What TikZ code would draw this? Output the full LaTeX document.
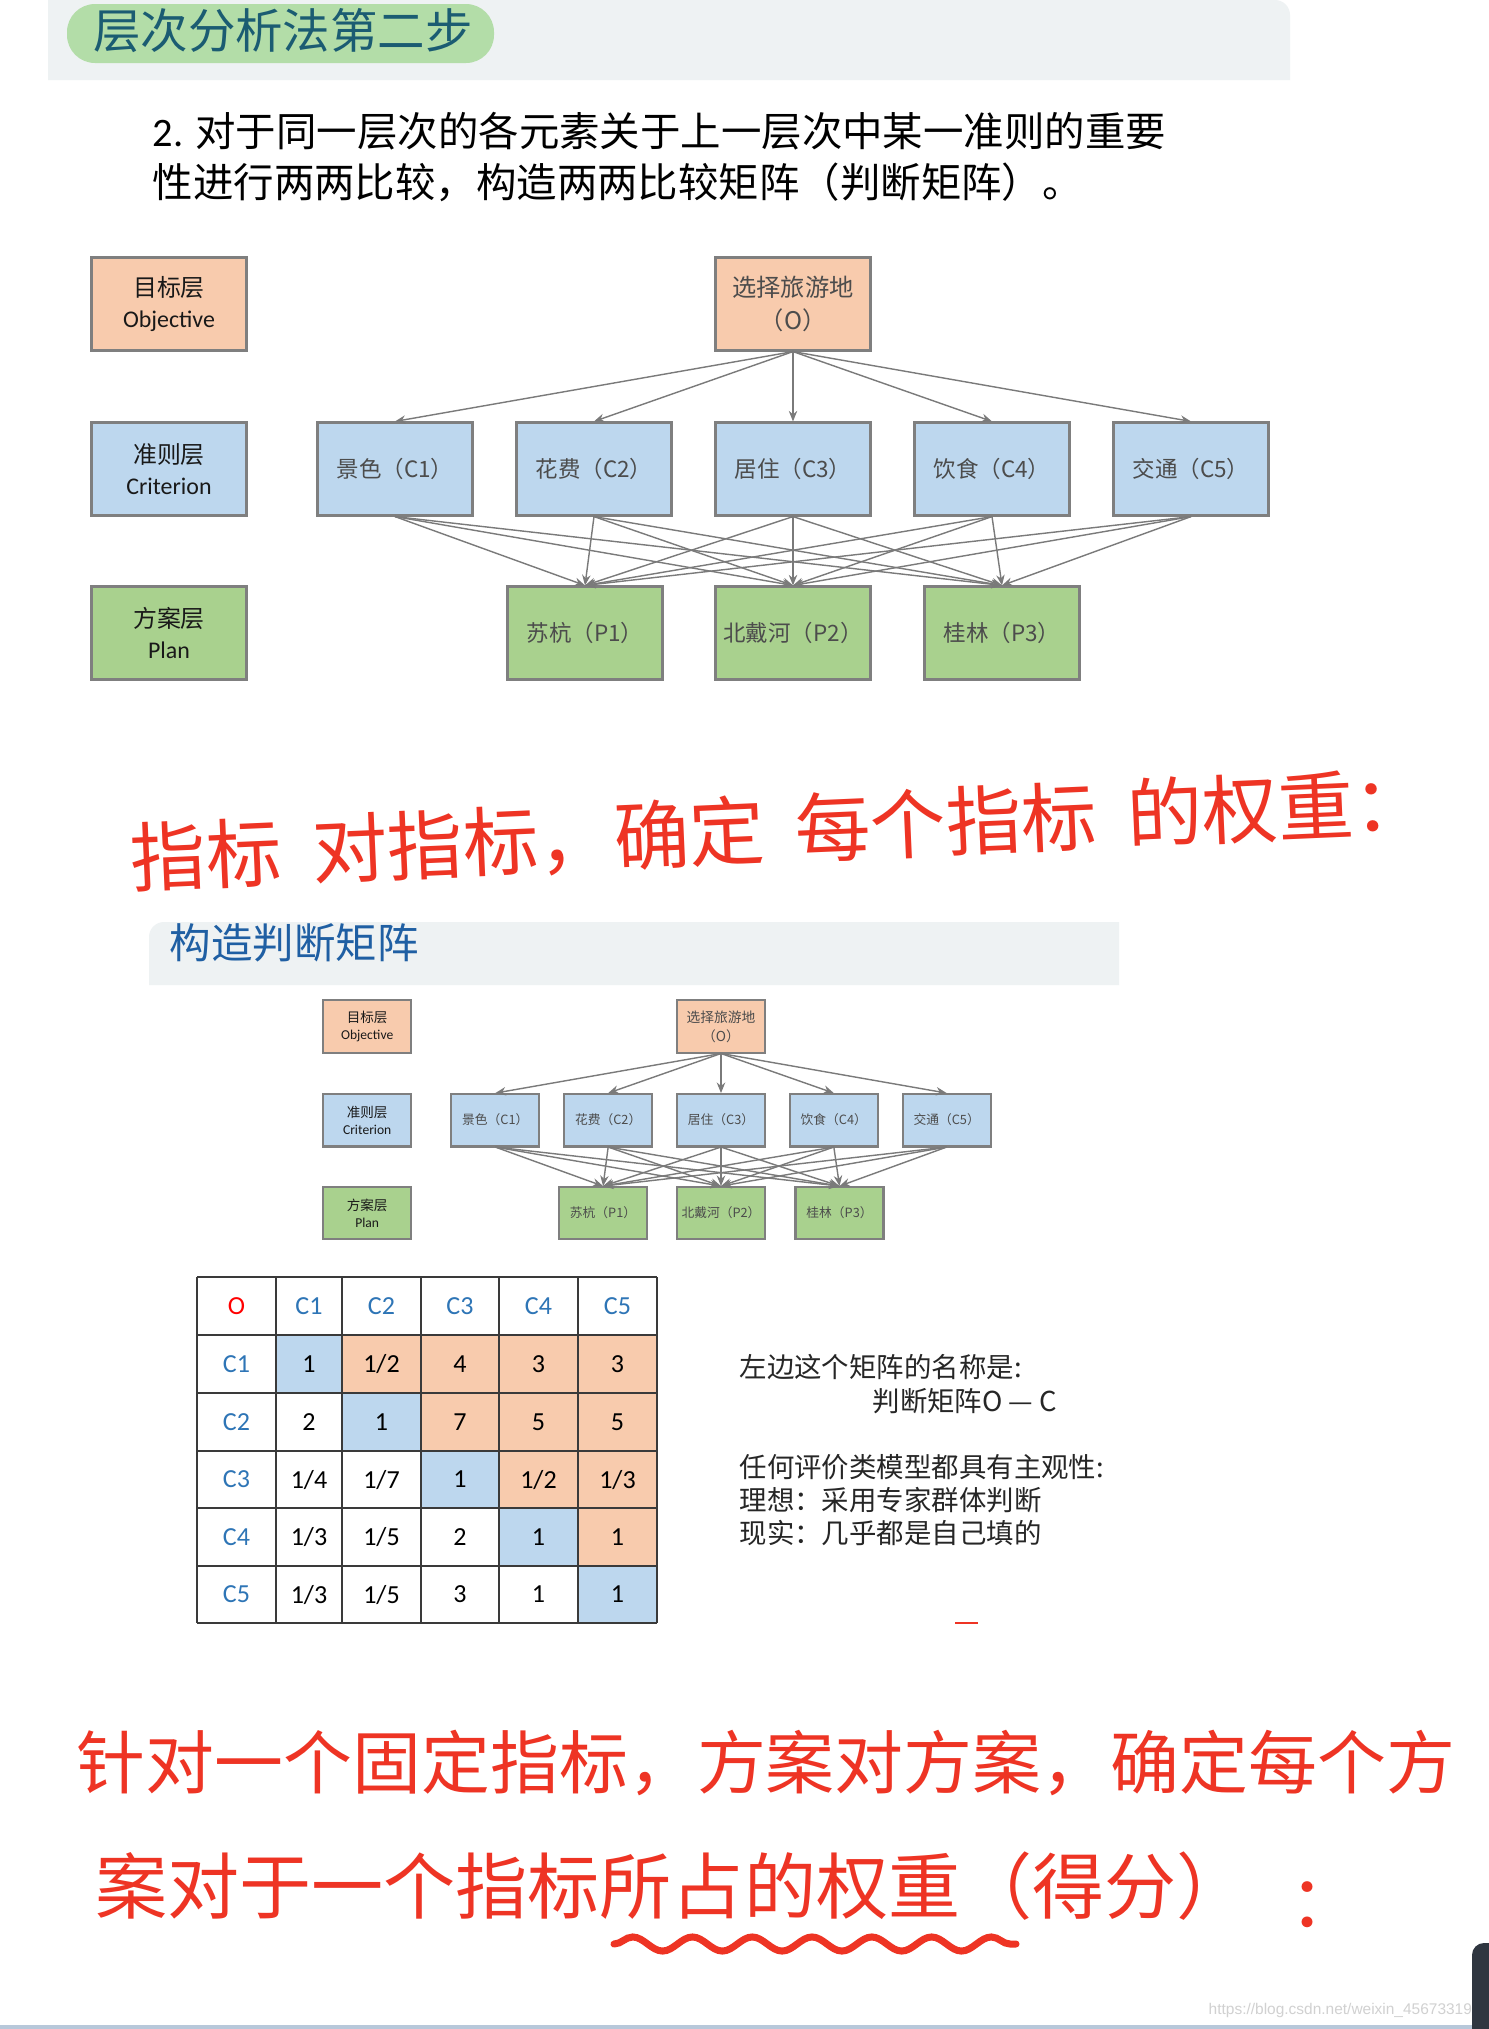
\documentclass[tikz,border=0pt]{standalone}
\usepackage{fontspec}
\setmainfont{Noto Sans CJK SC}
\newfontfamily\latinfont{Carlito}
\newfontfamily\wmfont{Liberation Sans}
\usepackage{tikz}
\usetikzlibrary{arrows.meta,decorations.pathmorphing}

\definecolor{bandgray}{HTML}{EEF2F3}
\definecolor{pillgreen}{HTML}{B3DDA8}
\definecolor{titleteal}{HTML}{1B5C72}
\definecolor{titleblue}{HTML}{1F5FA3}
\definecolor{goalfill}{HTML}{F8CBAD}
\definecolor{critfill}{HTML}{BDD7EE}
\definecolor{planfill}{HTML}{A9D18E}
\definecolor{boxline}{HTML}{7F7F7F}
\definecolor{linkgray}{HTML}{7A7A7A}
\definecolor{handred}{HTML}{EE3424}
\definecolor{labelblue}{HTML}{2E75B6}
\definecolor{gridgray}{HTML}{3A3A3A}
\definecolor{edgeblue}{HTML}{B8C8DA}
\definecolor{darkedge}{HTML}{2F3640}

\tikzset{
  layer/.style={draw=boxline, line width=0.6pt, minimum width=1.55cm, minimum height=0.93cm, inner sep=1pt, align=center},
  goalbox/.style={layer, fill=goalfill},
  critbox/.style={layer, fill=critfill},
  planbox/.style={layer, fill=planfill},
  sidetext/.style={font=\fontsize{6.8}{8.6}\selectfont, text=black!90},
  boxtext/.style={font=\fontsize{6.4}{8.6}\selectfont, text=black!70},
  link/.style={draw=linkgray, line width=0.4pt, -{Stealth[length=3pt,width=2.4pt]}},
  cell/.style={inner sep=0pt, font=\latinfont\fontsize{7.4}{8}\selectfont},
  note/.style={anchor=west, inner sep=0pt, font=\fontsize{7.8}{9}\selectfont, text=black!85},
  hand/.style={inner sep=0pt, text=handred, font=\fontsize{20.5}{24}\selectfont},
  ahp/.pic={
    \node[goalbox, sidetext] (-lo) at (-624,0) {目标层\\{\latinfont Objective}};
    \node[critbox, sidetext] (-lc) at (-624,165) {准则层\\{\latinfont Criterion}};
    \node[planbox, sidetext] (-lp) at (-624,329) {方案层\\{\latinfont Plan}};
    \node[goalbox, boxtext, font=\fontsize{6.9}{9.4}\selectfont] (-o) at (0,0) {选择旅游地\\（O）};
    \foreach \i/\x/\t in {1/-398/景色,2/-199/花费,3/0/居住,4/199/饮食,5/398/交通}
      \node[critbox, boxtext] (-c\i) at (\x,165) {\t（C\i）};
    \foreach \j/\x/\t in {1/-208/苏杭,2/0/北戴河,3/209/桂林}
      \node[planbox, boxtext] (-p\j) at (\x,329) {\t（P\j）};
    \foreach \i in {1,...,5} {
      \draw[link] (-o.south) -- (-c\i.north);
      \foreach \j in {1,2,3}
        \draw[link] (-c\i.south) -- (-p\j.north);
    }
  }
}

\begin{document}
\begin{tikzpicture}[x=0.01cm, y=-0.01cm]
  \useasboundingbox (0,0) rectangle (1489,2029);
  \fill[white] (0,0) rectangle (1489,2029);

  % first heading
  \fill[bandgray] (48,80) -- (48,0) [rounded corners=0.15cm] -- (1290,0) [sharp corners] -- (1290,80) -- cycle;
  \fill[pillgreen, rounded corners=0.28cm] (67,4) rectangle (494,63);
  \node[text=titleteal, font=\fontsize{13.5}{16}\selectfont] (title) at (283,31) {层次分析法第二步};
  \node[anchor=west, inner sep=0pt, align=left, font=\fontsize{11.5}{14.4}\selectfont] (step) at (152,157)
    {{\latinfont 2.} 对于同一层次的各元素关于上一层次中某一准则的重要\\性进行两两比较，构造两两比较矩阵（判断矩阵）。};

  \pic (big) at (793,304) {ahp};

  \node[hand, rotate=2.5, font=\fontsize{21.5}{24}\selectfont] (hand1) at (780,830)
    {指标\hspace{0.3cm}对指标，确定\hspace{0.3cm}每个指标\hspace{0.3cm}的权重：};

  % second heading
  \fill[bandgray] (1119,985) -- (149,985) [rounded corners=0.15cm] -- (149,922) [sharp corners] -- (1119,922) -- cycle;
  \node[anchor=west, inner sep=0pt, text=titleblue, font=\fontsize{11.8}{14}\selectfont] (title2) at (169,943) {构造判断矩阵};

  \pic[scale=0.567, transform shape] (small) at (721,1026.5) {ahp};

  % judgement matrix
  \fill[goalfill] (342,1335) -- (657,1335) -- (657,1566) -- (578,1566) -- (578,1508) -- (499,1508)
    -- (499,1451) -- (421,1451) -- (421,1393) -- (342,1393) -- cycle;
  \foreach \a/\b/\c/\d in {276/1335/342/1393, 342/1393/421/1451, 421/1451/499/1508, 499/1508/578/1566, 578/1566/657/1623}
    \fill[critfill] (\a,\b) rectangle (\c,\d);
  \foreach \x in {197,276,342,421,499,578,657}
    \draw[gridgray, line width=0.6pt] (\x,1277) -- (\x,1623);
  \foreach \y in {1277,1335,1393,1451,1508,1566,1623}
    \draw[gridgray, line width=0.6pt] (197,\y) -- (657,\y);
  \node[cell, text=red] (h0) at (236.5,1306) {O};
  \foreach \c/\x in {1/309,2/381.5,3/460,4/538.5,5/617.5}
    \node[cell, text=labelblue] (h\c) at (\x,1306) {C\c};
  \foreach \r/\y/\vals in {1/1364/{1,1/2,4,3,3}, 2/1422/{2,1,7,5,5}, 3/1479.5/{1/4,1/7,1,1/2,1/3},
                           4/1537/{1/3,1/5,2,1,1}, 5/1594.5/{1/3,1/5,3,1,1}} {
    \node[cell, text=labelblue] (r\r) at (236.5,\y) {C\r};
    \foreach \v [count=\c] in \vals {
      \pgfmathsetmacro\cx{{309,381.5,460,538.5,617.5}[\c-1]}
      \node[cell] (m\r\c) at (\cx,\y) {\v};
    }
  }

  \node[note] (n1) at (739,1367) {左边这个矩阵的名称是:};
  \node[note] (n2) at (872,1401) {判断矩阵O — C};
  \node[note] (n3) at (739,1467) {任何评价类模型都具有主观性:};
  \node[note] (n4) at (739,1500) {理想：采用专家群体判断};
  \node[note] (n5) at (739,1533) {现实：几乎都是自己填的};
  \draw[handred, line width=0.8pt] (955,1623) -- (978,1623);

  % handwritten notes
  \node[hand, font=\fontsize{19.6}{24}\selectfont] (hand2) at (766,1763) {针对一个固定指标，方案对方案，确定每个方};
  \node[hand] (hand3) at (672,1886) {案对于一个指标所占的权重（得分）};
  \node[hand] (colon) at (1326,1905) {：};
  \coordinate (wl) at (614,1944);
  \coordinate (wr) at (1016,1944);
  \draw[handred, line width=2pt, line cap=round, decorate,
        decoration={snake, amplitude=2pt, segment length=17pt}] (wl) -- (wr);

  % page edge
  \fill[edgeblue] (0,2025) rectangle (1489,2029);
  \fill[darkedge] (1489,2029) -- (1472,2029) [rounded corners=0.12cm] -- (1472,1943) [sharp corners] -- (1489,1943) -- cycle;
  \node[anchor=west, inner sep=0pt, text=black!18, font=\wmfont\fontsize{4.4}{5}\selectfont] (mark) at (1208,2010)
    {https://blog.csdn.net/weixin\_45673319};
\end{tikzpicture}
\end{document}
